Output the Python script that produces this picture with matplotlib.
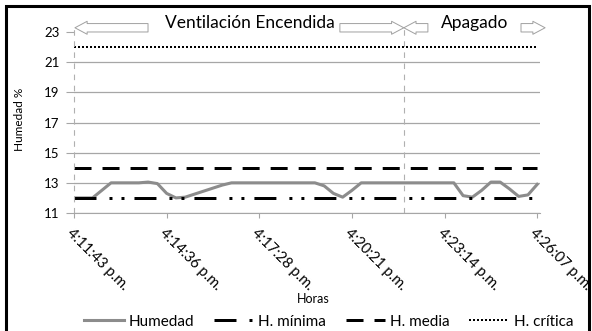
import matplotlib

matplotlib.use("Agg")
import matplotlib.pyplot as plt
from matplotlib.patches import Rectangle

plt.rcParams["font.family"] = ["Lato", "DejaVu Sans"]

# Humedad readings, one every ~17 s starting 4:11:43 p.m.
humedad = [12, 12, 12, 12.5, 13, 13, 13, 13, 13.05, 12.95,
           12.3, 12.0, 12.05, 12.25, 12.45, 12.65, 12.85, 13, 13, 13,
           13, 13, 13, 13, 13, 13, 13, 12.8, 12.3, 12.05,
           12.5, 13, 13, 13, 13, 13, 13, 13, 13, 13,
           13, 13, 12.15, 12.05, 12.5, 13.05, 13.05, 12.6, 12.1, 12.2,
           12.9]
h_minima = 12
h_media = 14
h_critica = 22

tick_idx = [0, 10, 20, 30, 40, 50]
tick_labels = ["4:11:43 p.m.", "4:14:36 p.m.", "4:17:28 p.m.",
               "4:20:21 p.m.", "4:23:14 p.m.", "4:26:07 p.m."]
y_ticks = [11, 13, 15, 17, 19, 21, 23]

# sample index where the ventilation is switched off
apagado_idx = 35.6

GRID = "#a6a6a6"
ARROW = "#a0a0a0"

x = list(range(len(humedad)))
n = len(x)

fig = plt.figure(figsize=(5.92, 3.31), dpi=100)
ax = fig.add_axes([74 / 592, 1 - 213 / 331, 466 / 592, 181 / 331])

ax.plot(x, humedad, color="#8c8c8c", lw=2.2, label="Humedad",
        solid_joinstyle="round")
ax.plot(x, [h_minima] * n, color="black", lw=2.16,
        ls=(0, (7.33, 4.33, 1, 3, 1, 3.33)), label="H. mínima")
ax.plot(x, [h_media] * n, color="black", lw=2.16,
        ls=(0, (5.67, 3.67)), label="H. media")
ax.plot(x, [h_critica] * n, color="black", lw=1.44,
        ls=(0, (1, 1)), label="H. crítica")

ax.set_xlim(0, 50.3)
ax.set_ylim(11, 23)
ax.set_yticks(y_ticks)
ax.set_xticks(tick_idx)
ax.set_xticklabels(tick_labels, rotation=-45, ha="left", va="top",
                   rotation_mode="anchor", fontsize=10.5)
ax.tick_params(axis="y", labelsize=9.5, length=5.5, pad=5, color=GRID)
ax.tick_params(axis="x", length=3.6, pad=6, color=GRID)

ax.grid(axis="y", color=GRID, lw=0.9)
ax.yaxis.get_gridlines()[-1].set_visible(False)
ax.set_axisbelow(True)

for s in ["top", "right", "left"]:
    ax.spines[s].set_visible(False)
ax.spines["bottom"].set_color(GRID)

# on / off markers
for xv in [0, apagado_idx]:
    ax.plot([xv, xv], [11, 23.47], color="#b0b0b0", lw=0.8,
            ls=(0, (5, 5)), clip_on=False)

ax.set_ylabel("Humedad %", fontsize=8.5)
ax.yaxis.set_label_coords(-0.105, 0.52)
ax.set_xlabel("Horas", fontsize=9)
ax.xaxis.set_label_coords(0.513, -0.44)

# top annotations
arrow_style = "simple,head_length=0.8,head_width=0.85,tail_width=0.55"
for start, tip in [(7.99, 0.1), (28.7, 35.6), (38.2, 35.6), (48.25, 50.85)]:
    ax.annotate("", xy=(tip, 23.28), xytext=(start, 23.28),
                annotation_clip=False,
                arrowprops=dict(arrowstyle=arrow_style, mutation_scale=11,
                                fc="white", ec=ARROW, lw=0.7,
                                shrinkA=0, shrinkB=0))
ax.text(19.0, 23.62, "Ventilación Encendida", ha="center", va="center",
        fontsize=12.5, clip_on=False)
ax.text(43.2, 23.62, "Apagado", ha="center", va="center",
        fontsize=12.5, clip_on=False)

fig.legend(loc="center", bbox_to_anchor=(0.555, 0.028), ncol=4,
           frameon=False, fontsize=11, handlelength=2.6,
           handletextpad=0.3, columnspacing=1.3)

fig.add_artist(Rectangle((6 / 592, -0.2), 583 / 592, 1.2 - 6 / 331,
                         transform=fig.transFigure, fill=False,
                         ec="black", lw=2.2, clip_on=False))

fig.savefig("out.png", dpi=100)
